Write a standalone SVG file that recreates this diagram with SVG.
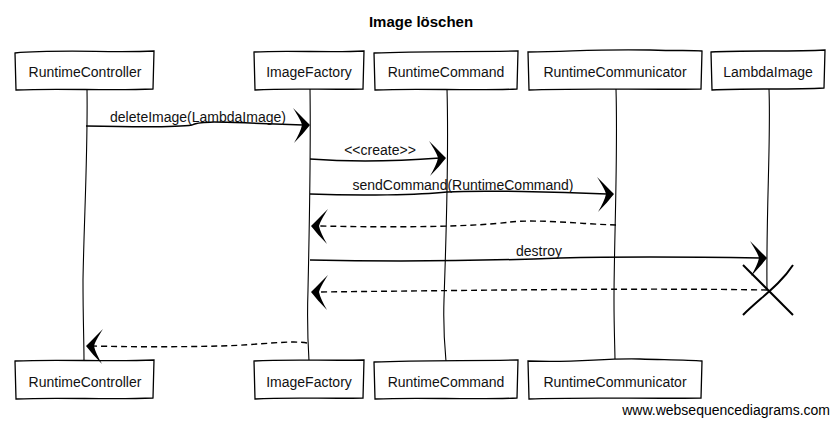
<svg xmlns="http://www.w3.org/2000/svg" xmlns:xlink="http://www.w3.org/1999/xlink" width="839" height="425" viewBox="0 0 839 425">
<style>
.box{fill:#fff;stroke:#000;stroke-width:1.3}
.life{fill:none;stroke:#000;stroke-width:1.1}
.msg{fill:none;stroke:#000;stroke-width:1.5}
.ret{fill:none;stroke:#000;stroke-width:1.4;stroke-dasharray:6,4}
.lbl{font-family:"Liberation Sans",Arial,sans-serif;font-size:14px;fill:#111;text-anchor:middle}
.title{font-family:"Liberation Sans",Arial,sans-serif;font-size:15px;font-weight:bold;fill:#000;text-anchor:middle}
.foot{font-family:"Liberation Sans",Arial,sans-serif;font-size:14px;fill:#000;text-anchor:end}
.ah{fill:#000}
.x{fill:none;stroke:#000;stroke-width:2}
</style>
<defs>
<path id="ah" class="ah" d="M0,0 C-5,-5 -12,-12 -17,-17 C-12,-9 -9,-4 -8,0 C-9,5 -12,11 -16,18 C-10,12 -4,5 0,0 Z"/>
</defs>
<rect width="839" height="425" fill="#fff"/>
<text class="title" x="421" y="27">Image löschen</text>

<g id="lifelines">
<path class="life" d="M87,89 C88,150 84,220 83,280 C83,320 84,340 84,361"/>
<path class="life" d="M310,89 C311,160 309,240 308,290 C307,320 308,345 309,361"/>
<path class="life" d="M447,89 C449,160 446,240 444,300 C443,330 445,350 446,361"/>
<path class="life" d="M616,89 C618,160 614,240 614,300 C614,330 615,350 615,361"/>
<path class="life" d="M769,89 C771,140 766,210 767,290"/>
</g>

<g id="RuntimeController_top"><path class="box" d="M15,53 C60,49 110,53 154,51 L153,89 C110,91 60,88 16,90 Z"/><text class="lbl" x="85" y="77">RuntimeController</text></g>
<g id="ImageFactory_top"><path class="box" d="M254,52 C290,50 330,53 364,51 L363,89 C330,90 290,88 255,90 Z"/><text class="lbl" x="309" y="77">ImageFactory</text></g>
<g id="RuntimeCommand_top"><path class="box" d="M374,53 C420,51 470,52 518,51 L517,89 C470,91 420,88 375,90 Z"/><text class="lbl" x="446" y="77">RuntimeCommand</text></g>
<g id="RuntimeCommunicator_top"><path class="box" d="M528,52 C580,51 600,49 650,50 C680,51 690,50 702,51 L701,89 C650,90 580,88 529,90 Z"/><text class="lbl" x="615" y="77">RuntimeCommunicator</text></g>
<g id="LambdaImage_top"><path class="box" d="M711,52 C750,50 790,52 825,50 L824,88 C790,90 750,88 712,90 Z"/><text class="lbl" x="768" y="77">LambdaImage</text></g>

<g id="RuntimeController_bottom"><path class="box" d="M15,361 C60,359 110,362 154,360 L153,398 C110,400 60,397 16,399 Z"/><text class="lbl" x="85" y="387">RuntimeController</text></g>
<g id="ImageFactory_bottom"><path class="box" d="M254,361 C290,359 330,361 364,360 L363,398 C330,399 290,397 255,399 Z"/><text class="lbl" x="309" y="387">ImageFactory</text></g>
<g id="RuntimeCommand_bottom"><path class="box" d="M374,362 C420,360 470,361 518,360 L517,398 C470,400 420,397 375,399 Z"/><text class="lbl" x="446" y="387">RuntimeCommand</text></g>
<g id="RuntimeCommunicator_bottom"><path class="box" d="M528,361 C580,363 600,358 640,359 C680,360 690,360 702,361 L701,398 C650,399 580,397 529,399 Z"/><text class="lbl" x="615" y="387">RuntimeCommunicator</text></g>

<g id="connectors">
<path class="msg" d="M86,126 C130,127 180,127 192,125 C198,121 220,122 250,123 L303,125"/>
<use xlink:href="#ah" href="#ah" transform="translate(310,125)"/>
<text class="lbl" x="198" y="122">deleteImage(LambdaImage)</text>

<path class="msg" d="M310,159 C350,162 400,161 440,158"/>
<use xlink:href="#ah" href="#ah" transform="translate(446,158)"/>
<text class="lbl" x="380" y="155">&lt;&lt;create&gt;&gt;</text>

<path class="msg" d="M310,194 C360,196 420,195 447,192 C480,190 560,192 607,194"/>
<use xlink:href="#ah" href="#ah" transform="translate(614,194)"/>
<text class="lbl" x="463" y="190">sendCommand(RuntimeCommand)</text>

<path class="ret" d="M616,225 C580,224 540,219 510,222 C480,226 420,228 318,226"/>
<use xlink:href="#ah" href="#ah" transform="translate(311,226) scale(-1,1)"/>

<path class="msg" d="M310,260 C400,262 480,261 560,258 C640,256 700,257 760,258"/>
<use xlink:href="#ah" href="#ah" transform="translate(767,258)"/>
<text class="lbl" x="539" y="256">destroy</text>

<path class="ret" d="M767,290 C650,288 500,290 318,292"/>
<use xlink:href="#ah" href="#ah" transform="translate(311,292) scale(-1,1)"/>

<path class="ret" d="M307,343 C290,340 260,345 220,346 C180,347 130,347 93,346"/>
<use xlink:href="#ah" href="#ah" transform="translate(86,346) scale(-1,1)"/>
</g>

<g id="destroy_mark">
<path class="x" d="M743,265 L793,315"/>
<path class="x" d="M743,315 C760,298 780,285 793,265"/>
</g>

<text class="foot" x="830" y="415">www.websequencediagrams.com</text>
</svg>
